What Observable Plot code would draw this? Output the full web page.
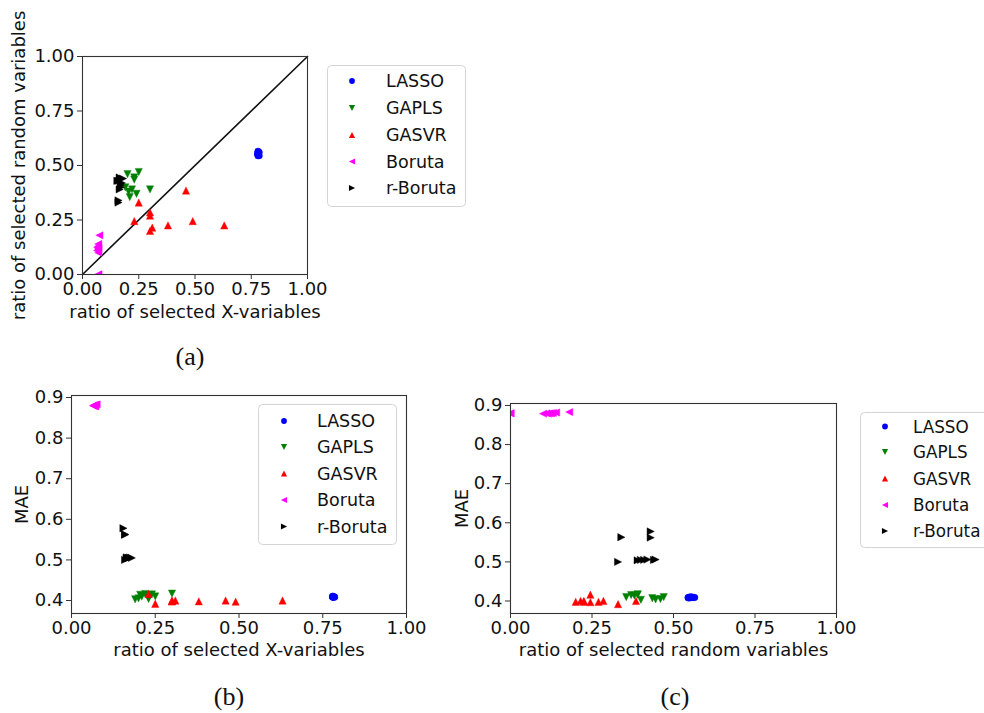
<!DOCTYPE html>
<html>
<head>
<meta charset="utf-8">
<script src="https://cdn.jsdelivr.net/npm/d3@7"></script>
<script src="https://cdn.jsdelivr.net/npm/@observablehq/plot@0.6"></script>
<style>
  html, body { margin: 0; padding: 0; background: #fff; }
  #fig { position: relative; width: 984px; height: 713px; overflow: hidden; font-family: "DejaVu Sans", sans-serif; }
  #fig > * { position: absolute; }
  .cap { font-family: "Liberation Serif", "Times New Roman", serif; font-size: 26px; color: #111; transform: translate(-50%, -50%); white-space: nowrap; }
</style>
</head>
<body>
<div id="fig"></div>
<script>
// Ten runs per method: ratio of selected X-variables, ratio of selected random variables, MAE
const methodNames = ["LASSO", "GAPLS", "GASVR", "Boruta", "r-Boruta"];

const lassoX   = [0.78, 0.78, 0.78, 0.785, 0.78, 0.78, 0.785, 0.78, 0.78, 0.78];
const lassoR   = [0.545, 0.55, 0.555, 0.56, 0.565, 0.55, 0.545, 0.56, 0.555, 0.55];
const lassoMAE = [0.409, 0.408, 0.410, 0.409, 0.409, 0.410, 0.408, 0.409, 0.410, 0.409];

const gaplsX   = [0.20, 0.25, 0.23, 0.23, 0.205, 0.22, 0.24, 0.30, 0.21, 0.19];
const gaplsR   = [0.46, 0.47, 0.445, 0.435, 0.38, 0.39, 0.37, 0.39, 0.355, 0.40];
const gaplsMAE = [0.405, 0.410, 0.404, 0.407, 0.414, 0.416, 0.415, 0.417, 0.410, 0.403];

const gasvrX   = [0.25, 0.23, 0.30, 0.30, 0.30, 0.31, 0.38, 0.46, 0.49, 0.63];
const gasvrR   = [0.33, 0.245, 0.285, 0.27, 0.20, 0.215, 0.225, 0.385, 0.245, 0.225];
const gasvrMAE = [0.392, 0.416, 0.400, 0.398, 0.398, 0.400, 0.398, 0.400, 0.397, 0.400];

const borutaX   = [0.07, 0.07, 0.065, 0.07, 0.07, 0.065, 0.07, 0.07, 0.075, 0.07];
const borutaR   = [0.00, 0.10, 0.11, 0.115, 0.12, 0.125, 0.13, 0.14, 0.18, 0.00];
const borutaMAE = [0.880, 0.879, 0.880, 0.879, 0.880, 0.880, 0.881, 0.882, 0.883, 0.880];

const rborutaX   = [0.16, 0.16, 0.155, 0.16, 0.165, 0.17, 0.17, 0.175, 0.18, 0.165];
const rborutaR   = [0.33, 0.34, 0.43, 0.43, 0.39, 0.40, 0.41, 0.42, 0.44, 0.445];
const rborutaMAE = [0.500, 0.563, 0.578, 0.562, 0.504, 0.505, 0.505, 0.506, 0.505, 0.506];

const unitTicks = [0, 0.25, 0.5, 0.75, 1];
const maeTicks = [0.4, 0.5, 0.6, 0.7, 0.8, 0.9];
const maeDomain = [0.368, 0.905];
const identityLine = [0, 1];

// Triangle markers with width = height, like matplotlib's ^ v < > markers
const triangle = pts => ({
  draw(ctx, size) {
    const h = Math.sqrt(2 * size) / 2;
    ctx.moveTo(pts[0][0] * h, pts[0][1] * h);
    ctx.lineTo(pts[1][0] * h, pts[1][1] * h);
    ctx.lineTo(pts[2][0] * h, pts[2][1] * h);
    ctx.closePath();
  }
});
const triUp = triangle([[0, -1], [-1, 1], [1, 1]]);
const triDown = triangle([[0, 1], [-1, -1], [1, -1]]);
const triLeft = triangle([[-1, 0], [1, -1], [1, 1]]);
const triRight = triangle([[1, 0], [-1, -1], [-1, 1]]);

const methods = [
  {name: methodNames[0], color: "#0000ff", symbol: d3.symbolCircle, r: 3.3, lsize: 26, X: lassoX, R: lassoR, MAE: lassoMAE},
  {name: methodNames[1], color: "#008000", symbol: triDown, r: 2.9, lsize: 19, X: gaplsX, R: gaplsR, MAE: gaplsMAE},
  {name: methodNames[2], color: "#ff0000", symbol: triUp, r: 2.9, lsize: 19, X: gasvrX, R: gasvrR, MAE: gasvrMAE},
  {name: methodNames[3], color: "#ff00ff", symbol: triLeft, r: 2.9, lsize: 19, X: borutaX, R: borutaR, MAE: borutaMAE},
  {name: methodNames[4], color: "#000000", symbol: triRight, r: 2.9, lsize: 19, X: rborutaX, R: rborutaR, MAE: rborutaMAE}
];

const fig = document.getElementById("fig");
const ink = "#111";

function panel(p) {
  const marks = [];
  if (p.diagonal) {
    marks.push(Plot.line(identityLine, {x: d => d, y: d => d, stroke: ink, strokeWidth: 1.6}));
  }
  for (const m of methods) {
    const xs = m[p.xKey], ys = m[p.yKey];
    marks.push(Plot.dot(d3.range(xs.length), {
      x: i => xs[i], y: i => ys[i],
      symbol: m.symbol, r: m.r, fill: m.color, stroke: m.color, strokeWidth: 0.4, clip: true
    }));
  }
  marks.push(
    Plot.frame({stroke: "#333", strokeWidth: 1.1}),
    Plot.axisX({ticks: unitTicks, tickFormat: d3.format(".2f"), tickSize: 5, tickPadding: 3, fontSize: 18, label: null, fill: ink}),
    Plot.axisY({ticks: p.yTicks, tickFormat: d3.format(p.yFmt), tickSize: 5, tickPadding: 3, fontSize: 18, label: null, fill: ink}),
    Plot.text([p.xLabel], {text: d => d, frameAnchor: "bottom", dy: p.xLabelDy, textAnchor: "middle", lineAnchor: "middle", fontSize: 18, fill: ink}),
    Plot.text([p.yLabel], {text: d => d, frameAnchor: "left", dx: p.yLabelDx, rotate: -90, textAnchor: "middle", lineAnchor: "middle", fontSize: 18, fill: ink})
  );
  const svg = Plot.plot({
    width: p.width, height: p.height,
    marginLeft: p.ml, marginRight: p.mr, marginTop: p.mt, marginBottom: p.mb,
    x: {domain: [0, 1]},
    y: {domain: p.yDomain},
    style: {fontFamily: "DejaVu Sans", fontSize: "18px", color: "#333", background: "transparent", overflow: "visible"},
    marks
  });
  svg.style.left = p.left + "px";
  svg.style.top = p.top + "px";
  fig.appendChild(svg);
}

function legend(p) {
  const svg = d3.create("svg")
    .attr("width", p.w).attr("height", p.h)
    .style("left", p.left + "px").style("top", p.top + "px")
    .style("overflow", "hidden");
  svg.append("rect")
    .attr("x", 0.5).attr("y", 0.5).attr("width", p.boxW - 1).attr("height", p.h - 1)
    .attr("rx", 4).attr("fill", "#fff").attr("fill-opacity", 0.85)
    .attr("stroke", "#d4d4d4");
  methods.forEach((m, i) => {
    const y = p.rowY[i] - p.top;
    svg.append("path")
      .attr("transform", `translate(${p.markerX - p.left},${y})`)
      .attr("d", d3.symbol(m.symbol, m.lsize)())
      .attr("fill", m.color);
    svg.append("text")
      .attr("x", p.textX - p.left).attr("y", y).attr("dy", "0.36em")
      .attr("font-family", "DejaVu Sans").attr("font-size", p.fontSize).attr("fill", ink)
      .text(m.name);
  });
  fig.appendChild(svg.node());
}

function caption(text, x, y) {
  const div = document.createElement("div");
  div.className = "cap";
  div.textContent = text;
  div.style.left = x + "px";
  div.style.top = y + "px";
  fig.appendChild(div);
}

// (a) random-variable ratio against X-variable ratio
panel({left: 0, top: 0, width: 330, height: 330, ml: 82, mr: 23, mt: 56, mb: 56,
  xKey: "X", yKey: "R", yDomain: [0, 1], yTicks: unitTicks, yFmt: ".2f", diagonal: true,
  xLabel: "ratio of selected X-variables", xLabelDy: 38,
  yLabel: "ratio of selected random variables", yLabelDx: -63});

// (b) MAE against X-variable ratio
panel({left: 0, top: 380, width: 430, height: 290, ml: 71, mr: 24, mt: 15, mb: 57,
  xKey: "X", yKey: "MAE", yDomain: maeDomain, yTicks: maeTicks, yFmt: ".1f",
  xLabel: "ratio of selected X-variables", xLabelDy: 37,
  yLabel: "MAE", yLabelDx: -49});

// (c) MAE against random-variable ratio
panel({left: 440, top: 380, width: 420, height: 290, ml: 70, mr: 24, mt: 23, mb: 57,
  xKey: "R", yKey: "MAE", yDomain: maeDomain, yTicks: maeTicks, yFmt: ".1f",
  xLabel: "ratio of selected random variables", xLabelDy: 37,
  yLabel: "MAE", yLabelDx: -48});

legend({left: 327, top: 65, w: 139, h: 142, boxW: 139, markerX: 352, textX: 386, fontSize: 17.5, rowY: [81, 108, 135, 161.5, 188]});
legend({left: 258, top: 404, w: 139, h: 141, boxW: 139, markerX: 284, textX: 317, fontSize: 17.5, rowY: [421, 447, 473.5, 500, 526.5]});
// the last legend sits at the right edge of the page; its box runs on past it
legend({left: 860, top: 412, w: 124, h: 136, boxW: 150, markerX: 885, textX: 913, fontSize: 16.8, rowY: [426.5, 452, 478.5, 505, 531]});

caption("(a)", 190, 357);
caption("(b)", 229, 697);
caption("(c)", 675, 697);
</script>
</body>
</html>
